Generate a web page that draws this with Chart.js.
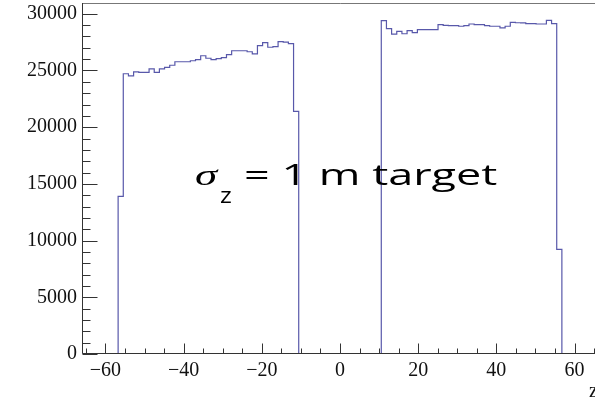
<!DOCTYPE html>
<html>
<head>
<meta charset="utf-8">
<title>z distribution, 1 m target</title>
<script src="https://cdn.jsdelivr.net/npm/chart.js@4/dist/chart.umd.min.js"></script>
<style>
  html, body { margin: 0; padding: 0; background: #fff; overflow: hidden; }
</style>
</head>
<body>
<canvas id="zChart" width="602" height="399"></canvas>
<script>
/* global Chart */

// histogram: 100 bins from -66 to 66
const xMin = -66;
const xMax = 66;
const binCount = 100;

// counts of the first (upstream) block, starting at bin 7
const leftFirstBin = 7;
const leftCounts = [13900, 24710, 24530, 24880, 24840, 24840, 25150, 24840, 25150, 25280,
  25460, 25770, 25770, 25770, 25860, 25950, 26300, 26080, 25950, 26050,
  26130, 26400, 26740, 26740, 26740, 26650, 26470, 27190, 27450, 27050,
  27100, 27540, 27500, 27360, 21400];

// counts of the second (downstream) block, starting at bin 58
const rightFirstBin = 58;
const rightCounts = [29390, 28690, 28200, 28450, 28240, 28510, 28330, 28600, 28600, 28600,
  28600, 29040, 28980, 28950, 28950, 28900, 28950, 29100, 29040, 29040,
  28950, 28900, 28900, 28760, 28900, 29240, 29210, 29190, 29130, 29130,
  29100, 29100, 29420, 29130, 9220];

const xTicks = [-60, -40, -20, 0, 20, 40, 60];
const yTicks = [0, 5000, 10000, 15000, 20000, 25000, 30000];
const yMax = 30950;

const binWidth = (xMax - xMin) / binCount;
const counts = new Array(binCount).fill(0);
leftCounts.forEach((c, i) => { counts[leftFirstBin + i] = c; });
rightCounts.forEach((c, i) => { counts[rightFirstBin + i] = c; });

const points = counts.map((c, i) => ({ x: xMin + i * binWidth, y: c }));
points.push({ x: xMax, y: 0 });

const serif = "'Liberation Serif', 'Times New Roman', serif";

// ROOT style frame, inside ticks and the label
const rootFrame = {
  id: 'rootFrame',
  afterDatasetsDraw(chart) {
    const { ctx, chartArea: a, scales: { x, y } } = chart;
    const L = Math.round(a.left) + 0.5;
    const B = Math.round(a.bottom) - 0.5;
    ctx.save();
    ctx.lineWidth = 1;

    ctx.strokeStyle = '#777';
    ctx.beginPath();
    ctx.moveTo(L, Math.round(a.top) + 0.5);
    ctx.lineTo(a.right, Math.round(a.top) + 0.5);
    ctx.lineTo(a.right, B);
    ctx.stroke();

    ctx.strokeStyle = '#333';
    ctx.beginPath();
    ctx.moveTo(L, Math.round(a.top));
    ctx.lineTo(L, B);
    ctx.lineTo(a.right, B);

    for (let v = 0; v <= yMax; v += 1000) {
      const py = Math.round(y.getPixelForValue(v)) + 0.5;
      const len = v % 5000 === 0 ? 15 : 8;
      ctx.moveTo(L, py);
      ctx.lineTo(L + len, py);
    }
    for (let v = -65; v <= 65; v += 5) {
      const px = Math.round(x.getPixelForValue(v)) + 0.5;
      const len = v % 20 === 0 ? 10 : 5;
      ctx.moveTo(px, B);
      ctx.lineTo(px, B - len);
    }
    ctx.stroke();

    // axis title
    ctx.fillStyle = '#111';
    ctx.font = '20px ' + serif;
    ctx.textAlign = 'right';
    ctx.textBaseline = 'alphabetic';
    ctx.fillText('z', a.right, 397);

    // annotation, stretched like the original picture
    const stretched = (text, left, base, font, sx) => {
      ctx.save();
      ctx.translate(left, base);
      ctx.scale(sx, 1);
      ctx.font = font;
      ctx.textAlign = 'left';
      ctx.fillStyle = '#000';
      ctx.fillText(text, 0, 0);
      ctx.restore();
    };
    stretched('\u03c3', 195, 185, 'italic 30px ' + serif, 1.5);
    stretched('z', 220, 203, "21px 'Open Sans', sans-serif", 1.2);
    stretched('= 1 m target', 244, 185, "30px 'Open Sans', sans-serif", 1.5);
    ctx.restore();
  }
};

const noEdgePadding = (s) => {
  s.paddingTop = 0; s.paddingBottom = 0; s.paddingLeft = 0; s.paddingRight = 0;
};

new Chart(document.getElementById('zChart'), {
  type: 'line',
  data: {
    datasets: [{
      data: points,
      stepped: true,
      borderColor: 'rgb(88, 88, 170)',
      borderWidth: 1.2,
      pointRadius: 0,
      fill: false,
      clip: { left: 1, top: 1, right: 1, bottom: 0 }
    }]
  },
  options: {
    responsive: false,
    animation: false,
    layout: { padding: { top: 3, right: 4, left: 0, bottom: 0 } },
    plugins: { legend: { display: false }, tooltip: { enabled: false } },
    scales: {
      x: {
        type: 'linear',
        min: xMin,
        max: xMax,
        afterBuildTicks: (s) => { s.ticks = xTicks.map((v) => ({ value: v })); },
        afterFit: (s) => { s.height = 45; noEdgePadding(s); },
        grid: { display: false, drawTicks: false },
        border: { display: false },
        ticks: {
          autoSkip: false,
          maxRotation: 0,
          padding: 5,
          color: '#111',
          font: { family: serif, size: 20 },
          callback: (v) => (v < 0 ? '\u2212' + Math.abs(v) : String(v))
        }
      },
      y: {
        min: 0,
        max: yMax,
        afterBuildTicks: (s) => { s.ticks = yTicks.map((v) => ({ value: v })); },
        afterFit: (s) => { s.width = 82; noEdgePadding(s); },
        grid: { display: false, drawTicks: false },
        border: { display: false },
        ticks: {
          padding: 5,
          color: '#111',
          font: { family: serif, size: 20 },
          callback: (v) => String(v)
        }
      }
    }
  },
  plugins: [rootFrame]
});
</script>
</body>
</html>
